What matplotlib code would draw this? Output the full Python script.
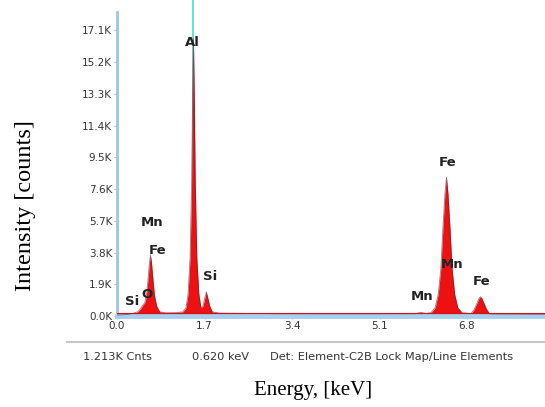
import matplotlib
matplotlib.use('Agg')
import matplotlib.pyplot as plt

# spectrum (energy keV, counts)
energy = [0.00, 0.20, 0.30, 0.40, 0.46, 0.50, 0.54, 0.57, 0.60, 0.63, 0.65, 0.67,
          0.70, 0.73, 0.77, 0.83, 0.95, 1.15, 1.28, 1.34, 1.38, 1.42, 1.45, 1.47,
          1.485, 1.50, 1.52, 1.55, 1.59, 1.63, 1.67, 1.70, 1.735, 1.77, 1.80, 1.85,
          2.00, 3.00, 4.00, 5.00, 5.80, 5.90, 6.00, 6.10, 6.18, 6.24, 6.29, 6.33,
          6.37, 6.40, 6.43, 6.47, 6.51, 6.56, 6.62, 6.70, 6.88, 6.94, 6.99, 7.03,
          7.06, 7.09, 7.13, 7.18, 7.24, 8.00, 8.80]
counts = [60, 90, 150, 250, 450, 650, 800, 1200, 2100, 3200, 3650, 3200,
          2100, 1200, 600, 250, 190, 200, 250, 500, 1300, 3500, 8000, 13500,
          16600, 13500, 8000, 3500, 1300, 500, 600, 1000, 1450, 1000, 600, 250,
          170, 140, 130, 130, 140, 220, 150, 200, 500, 1300, 2800, 5200,
          7300, 8300, 7300, 5200, 2800, 1300, 500, 200, 150, 400, 750, 1050,
          1150, 1050, 750, 400, 120, 110, 100]

# peak labels
peak_names = ['Al', 'Mn', 'Fe', 'Si', 'O', 'Si', 'Fe', 'Mn', 'Mn', 'Fe']
peak_x = [1.46, 0.68, 0.78, 0.29, 0.58, 1.80, 6.43, 6.50, 5.92, 7.09]
peak_y = [16400, 5600, 3950, 840, 1260, 2340, 9200, 3060, 1140, 2040]

yticks = [0, 1900, 3800, 5700, 7600, 9500, 11400, 13300, 15200, 17100]
ytick_labels = ['0.0K', '1.9K', '3.8K', '5.7K', '7.6K', '9.5K', '11.4K', '13.3K', '15.2K', '17.1K']
xticks = [0.0, 1.7, 3.4, 5.1, 6.8, 8.5]
xtick_labels = ['0.0', '1.7', '3.4', '5.1', '6.8', '8.5']

status = ['1.213K Cnts', '0.620 keV', 'Det: Element-C2B Lock Map/Line Elements']
status_x = [83, 192, 270]

W, H = 545, 407
fig = plt.figure(figsize=(W / 100, H / 100), dpi=100)
ax = fig.add_axes([117 / W, 91 / H, 453 / W, 304 / H])

ax.fill_between(energy, 0, counts, color='#ee1111', lw=0, zorder=2)
ax.plot(energy, counts, color='#5a2030', lw=0.6, alpha=0.6, zorder=3)
ax.plot([0, 8.8], [150, 150], color='#d01020', lw=0.8, zorder=3)

# cyan marker line at Al
ax.plot([1.485, 1.485], [0, 19200], color='#40e0d0', lw=1.2, clip_on=False, zorder=1)

ax.set_xlim(0, 8.8)
ax.set_ylim(0, 18200)
ax.set_xticks(xticks)
ax.set_xticklabels(xtick_labels)
ax.set_yticks(yticks)
ax.set_yticklabels(ytick_labels)
ax.tick_params(labelsize=7.5, colors='#9cc8e6', labelcolor='#333333', length=2, pad=1.5)

for s in ['top', 'right']:
    ax.spines[s].set_visible(False)
ax.spines['left'].set_color('#9cc8e6')
ax.spines['left'].set_linewidth(2)
ax.spines['bottom'].set_color('#a8d0ec')
ax.spines['bottom'].set_linewidth(3.5)

for name, x, y in zip(peak_names, peak_x, peak_y):
    ax.text(x, y, name, fontsize=9.5, fontweight='semibold', color='#222222',
            ha='center', va='center', zorder=5)

# status bar under the plot
fig.add_artist(plt.Line2D([67 / W, 1.0], [1 - 342 / H, 1 - 342 / H], color='#c8c8c8', lw=1.5))
for t, x in zip(status, status_x):
    fig.text(x / W, 1 - 357 / H, t, fontsize=8.2, color='#333333', ha='left', va='center')

fig.text(313 / W, 1 - 391 / H, 'Energy, [keV]', family='Liberation Serif', fontsize=15,
         ha='center', va='center')
fig.text(26 / W, 1 - 206 / H, 'Intensity [counts]', family='Liberation Serif', fontsize=17.5,
         ha='center', va='center', rotation=90)

fig.savefig('out.png', dpi=100)
